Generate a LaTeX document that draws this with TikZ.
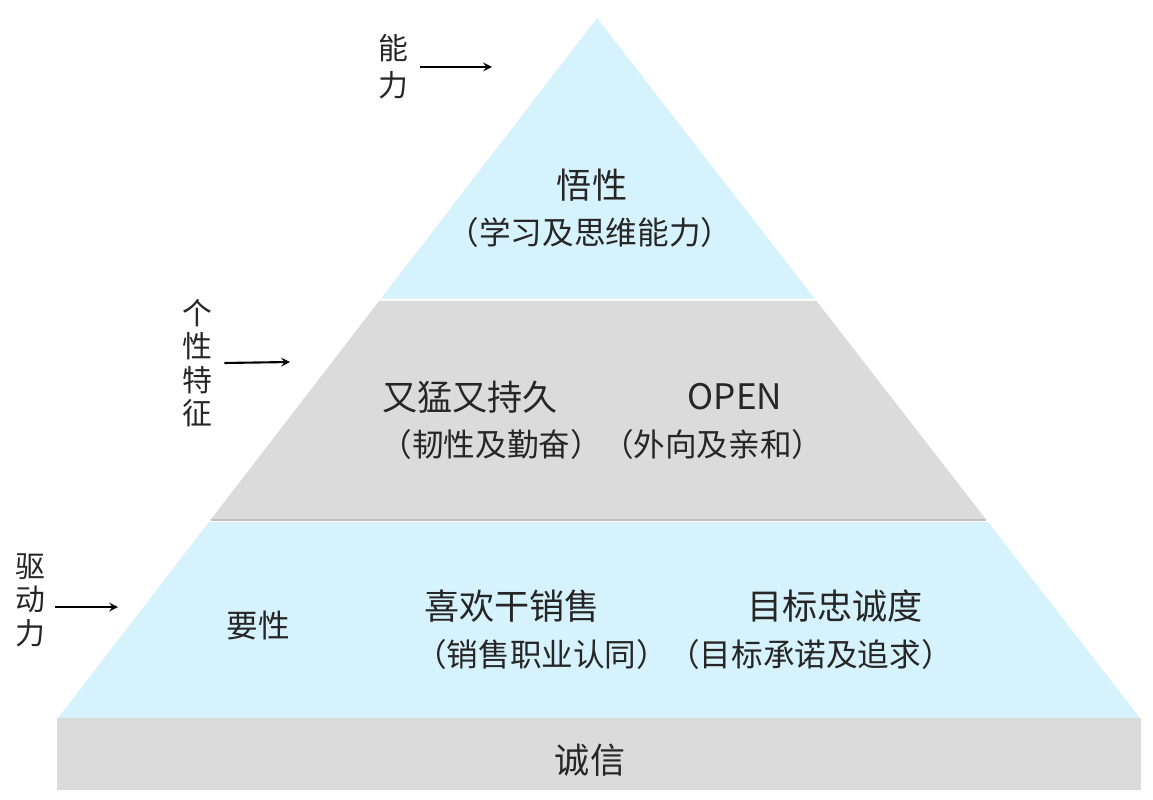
\documentclass[tikz,border=0pt]{standalone}
\usepackage{fontspec}
\setmainfont{Noto Sans CJK SC}
\usetikzlibrary{positioning,calc}
\tikzset{>=stealth}
\colorlet{layerCyan}{cyan!16!white}
\colorlet{layerGray}{black!14}
\tikzset{
  head/.style={font=\fontsize{20}{22}\selectfont, text=black!85},
  sub/.style={font=\fontsize{18}{20}\selectfont, text=black!85},
  side/.style={font=\fontsize{17}{19}\selectfont, text=black!85, align=center, inner sep=0pt},
}
\begin{document}
\begin{tikzpicture}[x=0.02cm,y=-0.02cm]
				\useasboundingbox (0,0) rectangle (1153,800);
				\coordinate (T) at (597,18);
				\coordinate (L) at (58,718);
				\coordinate (R) at (1140,718);
				% layers
				\fill[layerCyan] (T) -- ($(T)!0.401!(L)$) -- ($(T)!0.401!(R)$) -- cycle;
				\fill[layerGray] ($(T)!0.404!(L)$) -- ($(T)!0.717!(L)$) -- ($(T)!0.717!(R)$) -- ($(T)!0.404!(R)$) -- cycle;
				\fill[layerCyan] ($(T)!0.72!(L)$) -- (L) -- (R) -- ($(T)!0.72!(R)$) -- cycle;
				\fill[layerGray] (57,718) rectangle (1141,790);
				\draw[black!25, line width=1pt] ($(T)!0.717!(L)$) -- ($(T)!0.717!(R)$);
				
				\node[head] (wuxing) at (592,185) {悟性};
				\node[sub] (xuexi) at (590,232) {（学习及思维能力）};
				\node[head] (youmeng) at (470,397) {又猛又持久};
				\node[head] (open) at (735,397) {OPEN};
				\node[sub] (renxing) at (602,444) {（韧性及勤奋）（外向及亲和）};
				\node[sub] (yaoxing) at (258,625) {要性};
				\node[head] (xihuan) at (512,606) {喜欢干销售};
				\node[head] (mubiao) at (835,606) {目标忠诚度};
				\node[sub] (xiaoshou) at (684,654) {（销售职业认同）（目标承诺及追求）};
				\node[head] (chengxin) at (590,760) {诚信};
				
				\node[side] (nengli) at (393,67) {能\\[2pt]力};
				\node[side] (gexing) at (197,363) {个\\性\\特\\征};
				\node[side] (qudong) at (30,600) {驱\\动\\力};
				\coordinate (a1) at (492,67);
				\coordinate (a2) at (290,362);
				\coordinate (a3) at (118,607);
				\draw[->, line width=1.2pt] (nengli.east) ++(12,0) -- (a1);
				\draw[->, line width=1.2pt] (gexing.east) ++(12,0) -- (a2);
				\draw[->, line width=1.2pt] (qudong.east) ++(10,7) -- (a3);
\end{tikzpicture}
\end{document}
